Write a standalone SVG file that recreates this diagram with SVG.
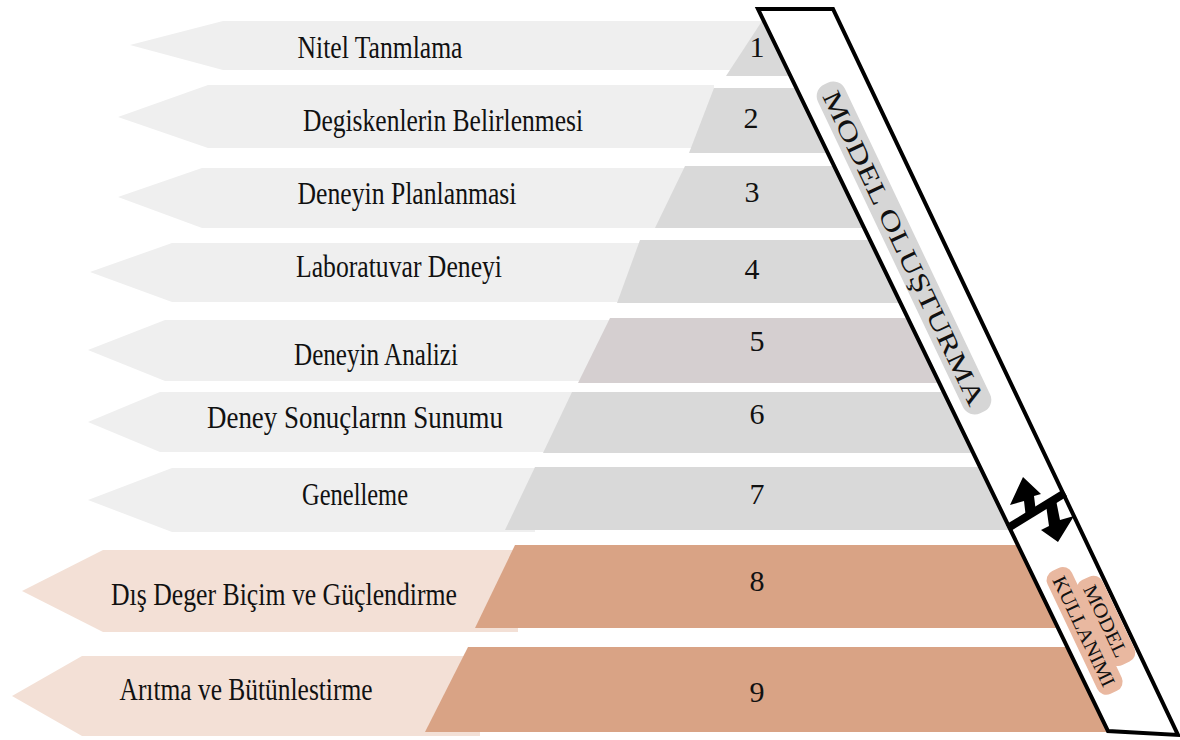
<svg xmlns="http://www.w3.org/2000/svg" width="1180" height="740" viewBox="0 0 1180 740">
<style>
.arr{fill:#efefef}
.arrO{fill:#f3e0d6}
.trap{fill:#d9d9d9}
.trap5{fill:#d5cfd0}
.trapO{fill:#d9a385}
.lbl{font-family:"Liberation Serif","Times New Roman",serif;font-size:31px;fill:#111;text-anchor:middle}
.num{font-family:"Liberation Serif","Times New Roman",serif;font-size:30px;fill:#111;text-anchor:middle}
.bar{fill:#fff;stroke:#000;stroke-width:4;stroke-linejoin:miter}
.side{font-family:"Liberation Serif","Times New Roman",serif;fill:#111;text-anchor:middle}
</style>
<rect width="1180" height="740" fill="#fff"/>
<g id="step1">
<polygon class="arr" points="130,45 223,21 764,21 764,70 223,70"/>
<polygon class="trap" points="764,18 792,18 820,76 726,76"/>
<text class="lbl" x="380" y="58" textLength="165" lengthAdjust="spacingAndGlyphs">Nitel Tanmlama</text>
<text class="num" x="757" y="57">1</text>
</g>
<g id="step2">
<polygon class="arr" points="118,117 208,85 714,85 714,148 208,148"/>
<polygon class="trap" points="714,88 826,88 858,153 689,153"/>
<text class="lbl" x="443" y="131" textLength="280" lengthAdjust="spacingAndGlyphs">Degiskenlerin Belirlenmesi</text>
<text class="num" x="751" y="128">2</text>
</g>
<g id="step3">
<polygon class="arr" points="118,197 202,168 685,168 685,228 202,228"/>
<polygon class="trap" points="685,166 864,166 894,228 655,228"/>
<text class="lbl" x="407" y="204" textLength="219" lengthAdjust="spacingAndGlyphs">Deneyin Planlanmasi</text>
<text class="num" x="752" y="202">3</text>
</g>
<g id="step4">
<polygon class="arr" points="90,272 172,243 640,243 640,302 172,302"/>
<polygon class="trap" points="640,240 900,240 931,303 617,303"/>
<text class="lbl" x="399" y="277" textLength="206" lengthAdjust="spacingAndGlyphs">Laboratuvar Deneyi</text>
<text class="num" x="752" y="279">4</text>
</g>
<g id="step5">
<polygon class="arr" points="88,350 165,320 610,320 610,381 165,381"/>
<polygon class="trap5" points="610,318 938,318 969,383 578,383"/>
<text class="lbl" x="376" y="365" textLength="164" lengthAdjust="spacingAndGlyphs">Deneyin Analizi</text>
<text class="num" x="757" y="351">5</text>
</g>
<g id="step6">
<polygon class="arr" points="88,422 160,392 572,392 572,452 160,452"/>
<polygon class="trap" points="572,392 974,392 1003,453 543,453"/>
<text class="lbl" x="355" y="428" textLength="296" lengthAdjust="spacingAndGlyphs">Deney Sonuçlarnn Sunumu</text>
<text class="num" x="757" y="424">6</text>
</g>
<g id="step7">
<polygon class="arr" points="88,500 172,468 535,468 535,532 172,532"/>
<polygon class="trap" points="535,467 1010,467 1041,530 505,530"/>
<text class="lbl" x="355" y="505" textLength="106" lengthAdjust="spacingAndGlyphs">Genelleme</text>
<text class="num" x="757" y="504">7</text>
</g>
<g id="step8">
<polygon class="arrO" points="22,591 103,550 518,550 518,632 103,632"/>
<polygon class="trapO" points="515,545 1048,545 1088,628 475,628"/>
<text class="lbl" x="284" y="605" textLength="346" lengthAdjust="spacingAndGlyphs">Dış Deger Biçim ve Güçlendirme</text>
<text class="num" x="757" y="591">8</text>
</g>
<g id="step9">
<polygon class="arrO" points="12,696 82,656 480,656 480,736 82,736"/>
<polygon class="trapO" points="468,647 1097,647 1139,732 425,732"/>
<text class="lbl" x="246" y="700" textLength="253" lengthAdjust="spacingAndGlyphs">Arıtma ve Bütünlestirme</text>
<text class="num" x="757" y="702">9</text>
</g>
<g id="phase-bar">
<polygon class="bar" points="758,9 833,9 1178,735 1108,731"/>
</g>
<g id="model-olusturma" transform="translate(904,248) rotate(64.6)">
<rect x="-182" y="-15" width="364" height="30" rx="13" fill="#d6d6d6"/>
<text class="side" x="0" y="9" font-size="26" textLength="345" lengthAdjust="spacingAndGlyphs">MODEL OLUŞTURMA</text>
</g>
<g id="model-kullanimi" transform="translate(1095,626) rotate(64.6)">
<rect x="-47" y="-26" width="94" height="28" rx="10" fill="#e9b8a0"/>
<rect x="-68" y="-2" width="136" height="27" rx="10" fill="#e9b8a0"/>
<text class="side" x="0" y="-5" font-size="20" textLength="78" lengthAdjust="spacingAndGlyphs">MODEL</text>
<text class="side" x="0" y="19" font-size="20" textLength="120" lengthAdjust="spacingAndGlyphs">KULLANIMI</text>
</g>
<g id="connectors">
<line x1="1008" y1="528" x2="1065" y2="493" stroke="#000" stroke-width="8"/>
<polygon fill="#000" points="1023,477 1041,494 1034,496 1036,512 1026,518 1024,501 1010,505"/>
<polygon fill="#000" points="1058,542 1041,530 1049,526 1046,505 1056,500 1060,520 1074,516"/>
</g>
</svg>
